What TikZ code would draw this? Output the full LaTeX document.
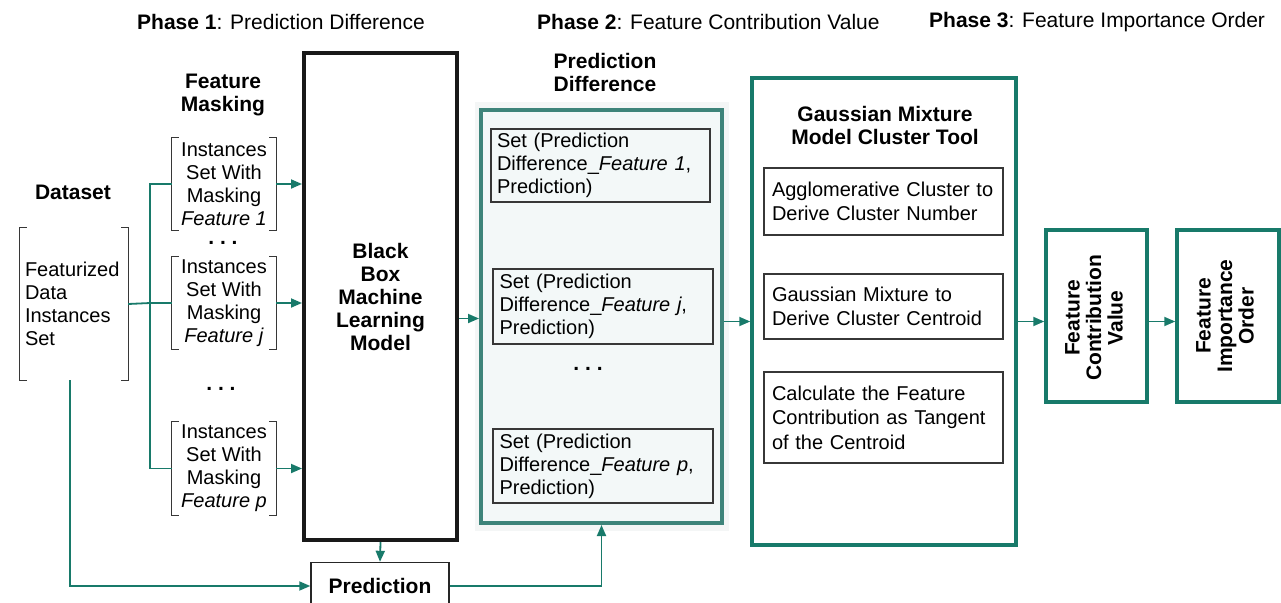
\documentclass[tikz,border=0pt]{standalone}
\usepackage{fontspec}
\setmainfont{Liberation Sans}
\usetikzlibrary{arrows.meta}
\definecolor{tealA}{RGB}{24,122,106}
\definecolor{tealB}{RGB}{62,132,122}
\definecolor{pdfill}{RGB}{243,248,248}
\definecolor{halo}{RGB}{244,246,246}
\definecolor{inkgray}{RGB}{55,55,55}
\newcommand\txtR{\fontsize{20}{23}\selectfont}
\newcommand\txtRg{\fontsize{20}{24.5}\selectfont}
\newcommand\txtB{\fontsize{21}{23}\selectfont\bfseries}
\newcommand\txtBr{\fontsize{21}{21.5}\selectfont\bfseries}
\newcommand\txtH{\fontsize{21}{23}\selectfont}
\newcommand\brk[1]{%
  \draw[brkline] ([xshift=7pt]#1.north west) -- (#1.north west) -- (#1.south west) -- ([xshift=7pt]#1.south west);
  \draw[brkline] ([xshift=-7pt]#1.north east) -- (#1.north east) -- (#1.south east) -- ([xshift=-7pt]#1.south east);}
\begin{document}
\begin{tikzpicture}[x=1pt,y=-1pt,
  conn/.style={draw=tealA,line width=1.8pt},
  arr/.style={conn,-{Triangle[length=11pt,width=9pt]}},
  brkline/.style={draw=inkgray,line width=1.3pt},
  plain/.style={inner sep=0pt,font=\txtR,align=center},
  head/.style={inner sep=0pt,font=\txtB,align=center},
  bracketbox/.style={inner sep=0pt,font=\txtR,align=center},
  setbox/.style={draw=inkgray,line width=1.3pt,font=\txtR,align=left,inner xsep=6pt,inner ysep=0pt,text width=207pt},
  gmmbox/.style={draw=inkgray,line width=1.3pt,font=\txtRg,align=left,inner xsep=8pt,inner ysep=0pt,text width=223pt,minimum width=239pt},
  tealbox/.style={draw=tealA,line width=3.5pt,fill=white},
  dots/.style={inner sep=0pt,font=\txtB}
]
\useasboundingbox (0,0) rectangle (1281,602);

% phase headers
\node[inner sep=0pt,font=\txtH,anchor=west] (ph1) at (137,22) {\textbf{Phase 1}: Prediction Difference};
\node[inner sep=0pt,font=\txtH,anchor=west] (ph2) at (537,22) {\textbf{Phase 2}: Feature Contribution Value};
\node[inner sep=0pt,font=\txtH,anchor=west] (ph3) at (929,22) {\textbf{Phase 3}: Feature Importance Order};

% dataset
\node[head] (dsh) at (73,192) {Dataset};
\node[inner xsep=5pt,inner ysep=0pt,font=\txtR,align=left,text width=98pt,minimum width=108pt,minimum height=152pt] (ds) at (74,304) {Featurized\\Data\\Instances\\Set};
\brk{ds}

% feature masking
\node[head] (fmh) at (223,95) {Feature\\Masking};
\node[bracketbox,minimum width=104pt,minimum height=92pt] (f1) at (224,184) {Instances\\Set With\\Masking\\\textit{Feature 1}};
\node[bracketbox,minimum width=104pt,minimum height=92pt] (fj) at (224,303) {Instances\\Set With\\Masking\\\textit{Feature j}};
\node[bracketbox,minimum width=104pt,minimum height=93pt] (fp) at (224,468.5) {Instances\\Set With\\Masking\\\textit{Feature p}};
\brk{f1}
\brk{fj}
\brk{fp}
\node[dots] (d1) at (223,243) {.\ .\ .};
\node[dots] (d2) at (221,389) {.\ .\ .};

% black box
\node[draw=black!90,line width=4pt,minimum width=153pt,minimum height=487pt,font=\txtB,align=center,inner sep=0pt] (bb) at (380.5,296.5) {Black\\Box\\Machine\\Learning\\Model};

% prediction
\node[draw=black!85,line width=1.4pt,fill=white,minimum width=138pt,minimum height=47pt,font=\txtB,inner sep=0pt] (pred) at (380,586) {Prediction};

% prediction difference
\fill[halo] (475,102) rectangle (729,531);
\node[head] (pdh) at (605,72) {Prediction\\Difference};
\node[draw=tealB,line width=4pt,fill=pdfill,minimum width=241pt,minimum height=413pt] (pd) at (601.5,316.5) {};
\node[setbox,minimum width=219pt,minimum height=73pt] (s1) at (600.5,165.5) {Set (Prediction\\Difference\_\textit{Feature 1},\\Prediction)};
\node[setbox,minimum width=220pt,minimum height=75pt] (sj) at (603,306.5) {Set (Prediction\\Difference\_\textit{Feature j},\\Prediction)};
\node[setbox,minimum width=220pt,minimum height=74pt] (sp) at (603,466) {Set (Prediction\\Difference\_\textit{Feature p},\\Prediction)};
\node[dots] (d3) at (588,369) {.\ .\ .};

% GMM
\node[tealbox,minimum width=264pt,minimum height=467pt] (gmm) at (884,311.5) {};
\node[head] (gmmh) at (885,125) {Gaussian Mixture\\Model Cluster Tool};
\node[gmmbox,minimum height=67pt] (ga) at (883.5,201.5) {Agglomerative Cluster to\\Derive Cluster Number};
\node[gmmbox,minimum height=65pt] (gb) at (883.5,306.5) {Gaussian Mixture to\\Derive Cluster Centroid};
\node[gmmbox,minimum height=91pt] (gc) at (883.5,417.5) {Calculate the Feature\\Contribution as Tangent\\of the Centroid};

% FCV and FIO
\node[tealbox,minimum width=101pt,minimum height=172pt] (fcv) at (1096.5,316) {};
\node[inner sep=0pt,font=\txtBr,align=center,rotate=90] (fcvt) at (1094,318) {Feature\\Contribution\\Value};
\node[tealbox,minimum width=102pt,minimum height=172pt] (fio) at (1228,316) {};
\node[inner sep=0pt,font=\txtBr,align=center,rotate=90] (fiot) at (1225,316) {Feature\\Importance\\Order};

% connectors
\coordinate (split) at (150,303);
\coordinate (ay) at (0,321.5);
\draw[conn] (ds.east) -- (split);
\draw[conn] (split) |- (f1.west);
\draw[conn] (split) -- (fj.west);
\draw[conn] (split) |- (fp.west);
\draw[arr] (f1.east) -- (f1.east -| bb.west);
\draw[arr] (fj.east) -- (fj.east -| bb.west);
\draw[arr] (fp.east) -- (fp.east -| bb.west);
\draw[arr] (bb.east |- 0,318.5) -- (pd.west |- 0,318.5);
\draw[arr] (bb.south) -- (pred.north);
\draw[arr] ([xshift=-4pt]ds.south) |- (pred.west);
\draw[arr] (pred.east) -| (pd.south);
\draw[arr] (pd.east |- ay) -- (gmm.west |- ay);
\draw[arr] (gmm.east |- ay) -- (fcv.west |- ay);
\draw[arr] (fcv.east |- ay) -- (fio.west |- ay);
\end{tikzpicture}
\end{document}
